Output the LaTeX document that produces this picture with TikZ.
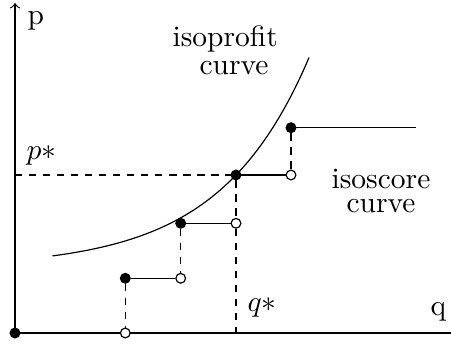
\documentclass[tikz,border=0pt]{standalone}
\begin{document}
\begin{tikzpicture}[x=0.339pt,y=-0.339pt,
  filled/.style={circle,fill=black,draw=black,inner sep=0pt,minimum size=3.3pt},
  hollow/.style={circle,fill=white,draw=black,inner sep=0pt,minimum size=3.3pt},
  dashline/.style={dash pattern=on 2.5pt off 2.25pt},
  lbl/.style={inner sep=0pt,anchor=base}]
\useasboundingbox (0,0) rectangle (451,344);
% axes
\coordinate (O0) at (15,333);
\coordinate (ytop) at (15,3);
\coordinate (xend) at (451,333);
\draw[->] (O0) -- (ytop);
\draw (O0) -- (xend);
% isoprofit curve
\draw plot[domain=52.5:309,samples=80,smooth] (\x,{333-(65.2+11.82*exp(0.0112*(\x-52)))});
% points
\coordinate (yp) at (15,175);
\coordinate (qx) at (236,333);
\coordinate (e4) at (416,127.7);
\node[filled] (O) at (15,333) {};
\node[hollow] (a1) at (125.3,333) {};
\node[filled] (b1) at (125.3,278.3) {};
\node[hollow] (a2) at (180.7,278.3) {};
\node[filled] (b2) at (180.7,223.3) {};
\node[hollow] (a3) at (236,223.3) {};
\node[filled] (b3) at (236,175) {};
\node[hollow] (a4) at (291,175) {};
\node[filled] (b4) at (291,127.7) {};
% dashed lines
\draw[dashline] (yp) -- (b3);
\draw[dashline] (b3) -- (a3);
\draw[dashline] (a3) -- (qx);
\draw[dashline] (b1) -- (a1);
\draw[dashline] (b2) -- (a2);
\draw[dashline] (b4) -- (a4);
% steps
\draw (b1) -- (a2);
\draw (b2) -- (a3);
\draw (b3) -- (a4);
\draw (b4) -- (e4);
% labels
\node[lbl,anchor=base west] (lp) at (27,25) {p};
\node[lbl,anchor=base west] (lq) at (430,316) {q};
\node[lbl,anchor=base west] (lps) at (26,160) {$p*$};
\node[lbl,anchor=base west] (lqs) at (247,312) {$q*$};
\node[lbl] (iso1) at (225.2,46.7) {isoprofit};
\node[lbl] (iso2) at (234,75) {curve};
\node[lbl] (isc1) at (381,188.3) {isoscore};
\node[lbl] (isc2) at (381,213) {curve};
\end{tikzpicture}
\end{document}
